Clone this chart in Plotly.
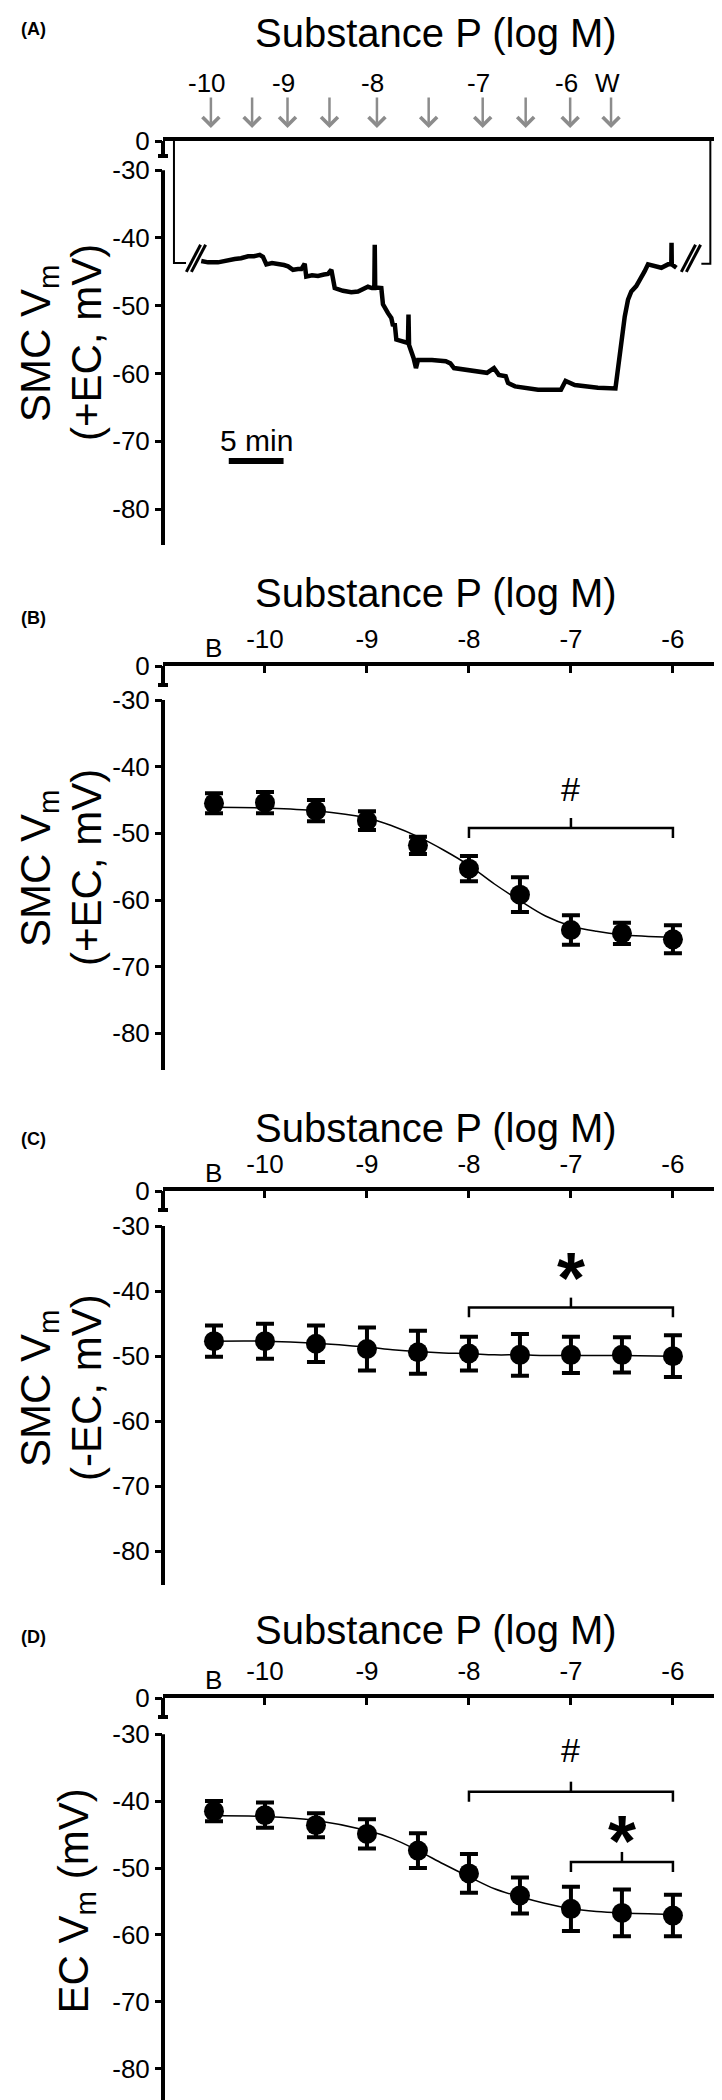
import plotly.graph_objects as go

W, H = 722, 2100
FONT = "Liberation Sans, Arial, sans-serif"
GREY = "#8c8c8c"

# ---------------- (A) SMC Vm recording (+EC) ----------------
# time in min, membrane potential in mV
pre_t = [1.00, 1.00, 2.10]
pre_v = [0, -43.7, -43.7]
rec_t = [3.49, 4.11, 5.02, 5.75, 6.54, 7.12, 7.76, 8.30, 8.82, 9.12, 9.43, 9.95,
         10.49, 11.04, 11.41, 11.86, 12.32, 12.62, 12.93, 13.07, 13.60, 14.14, 14.69,
         15.05, 15.36, 15.67, 16.42, 17.18, 17.79, 18.25, 18.70, 19.07, 19.28, 19.32,
         19.36, 19.92, 20.07, 20.53, 20.83, 20.99, 21.14, 21.29, 21.90, 22.35, 22.40,
         22.45, 22.86, 23.08, 23.27, 24.54, 25.80, 26.22, 26.55, 27.90, 29.56, 30.20,
         30.64, 31.27, 31.48, 32.12, 34.22, 36.31, 36.73, 37.57, 39.68, 41.28, 41.44,
         41.82, 42.13, 42.43, 42.73, 43.18, 43.64, 43.95, 44.25, 44.86, 45.47, 46.08,
         46.38, 46.40, 46.42, 46.84]
rec_v = [-43.4, -43.6, -43.6, -43.3, -43.1, -43.0, -42.7, -42.7, -42.5, -42.8, -43.9, -43.7,
         -43.8, -44.0, -44.2, -44.7, -44.6, -44.6, -43.8, -45.7, -45.5, -45.6, -45.4,
         -45.3, -44.7, -47.4, -47.8, -48.0, -47.9, -47.5, -47.2, -47.4, -47.4, -41.0,
         -47.3, -47.4, -49.8, -51.1, -51.8, -53.0, -52.6, -55.0, -55.2, -55.5, -51.3,
         -55.8, -57.7, -59.2, -58.0, -58.0, -58.2, -58.5, -59.2, -59.5, -59.9, -59.2,
         -60.2, -60.4, -61.4, -61.9, -62.4, -62.4, -61.1, -61.7, -62.1, -62.2, -60.2,
         -55.5, -51.6, -49.1, -47.9, -47.1, -45.9, -44.9, -43.9, -44.2, -44.4, -43.9,
         -43.9, -40.7, -43.9, -44.4]
post_t = [49.12, 49.94, 49.94]
post_v = [-43.8, -43.8, 0]

# substance P additions (min) and washout
add_t = [4.37, 8.13, 11.36, 15.19, 19.52, 24.24, 29.17, 33.09, 37.15, 40.88]
add_lbl = ["-10", "", "-9", "", "-8", "", "-7", "", "-6", "W"]
scale_min = 5

# ---------------- (B)-(D) concentration-response ----------------
log_sp = [-10.5, -10, -9.5, -9, -8.5, -8, -7.5, -7, -6.5, -6]   # -10.5 = baseline "B"
conc_ticks = [-10, -9, -8, -7, -6]
conc_labels = ["-10", "-9", "-8", "-7", "-6"]
vm_ticks = [-30, -40, -50, -60, -70, -80]

smc_ec_mean = [-45.5, -45.4, -46.6, -48.1, -51.8, -55.3, -59.2, -64.5, -65.0, -65.9]
smc_ec_sem = [1.5, 1.6, 1.6, 1.4, 1.3, 1.9, 2.6, 2.2, 1.6, 2.1]
smc_noec_mean = [-47.7, -47.7, -48.1, -48.9, -49.4, -49.6, -49.8, -49.8, -49.8, -50.0]
smc_noec_sem = [2.4, 2.7, 2.8, 3.3, 3.3, 2.6, 3.2, 2.8, 2.7, 3.2]
ec_mean = [-41.5, -42.1, -43.6, -44.9, -47.4, -50.8, -54.1, -56.1, -56.7, -57.1]
ec_sem = [1.5, 1.9, 1.8, 2.2, 2.6, 2.9, 2.7, 3.3, 3.5, 3.1]

fit_x = [-10.5, -10, -9.5, -9, -8.75, -8.5, -8.25, -8, -7.75, -7.5, -7.25, -7, -6.75, -6.5, -6]
smc_ec_fit = [-46.1, -46.2, -46.6, -47.7, -48.9, -50.5, -52.5, -54.8, -57.6, -60.1,
              -62.4, -63.9, -64.7, -65.2, -65.6]
smc_noec_fit = [-47.7, -47.7, -48.0, -48.6, -49.0, -49.3, -49.5, -49.6, -49.8, -49.8,
                -49.9, -49.9, -49.9, -49.9, -50.0]
ec_fit = [-42.2, -42.3, -42.9, -44.4, -45.6, -47.4, -49.4, -51.3, -53.1, -54.3,
          -55.3, -56.1, -56.5, -56.7, -56.9]

# significance brackets: (from, to, bracket level mV, mark, mark level mV)
sig_smc_ec = [(-8, -6, -49.2, "#", -43.3)]
sig_smc_noec = [(-8, -6, -42.5, "*", -35.3)]
sig_ec = [(-8, -6, -38.6, "#", -32.4), (-7, -6, -49.1, "*", -43.4)]

# ---------------- layout geometry (pixels) ----------------
X0, X1 = 155, 720
panels = [
    dict(tag="(A)", top=133, bot=537, lo=-85.3, zero=-25.7, cap=15, title_y=25, tag_y=21,
         ytitle=["SMC V<sub>m</sub>", "(+EC, mV)"]),
    dict(tag="(B)", top=658, bot=1062, lo=-85.5, zero=-24.9, cap=19, title_y=585, tag_y=610,
         ytitle=["SMC V<sub>m</sub>", "(+EC, mV)"],
         mean=smc_ec_mean, sem=smc_ec_sem, fit=smc_ec_fit, sig=sig_smc_ec),
    dict(tag="(C)", top=1183, bot=1577, lo=-85.2, zero=-24.6, cap=19, title_y=1120, tag_y=1131,
         ytitle=["SMC V<sub>m</sub>", "(-EC, mV)"],
         mean=smc_noec_mean, sem=smc_noec_sem, fit=smc_noec_fit, sig=sig_smc_noec),
    dict(tag="(D)", top=1690, bot=2097, lo=-85.4, zero=-24.6, cap=19, title_y=1622, tag_y=1629,
         ytitle=["EC V<sub>m</sub> (mV)"],
         mean=ec_mean, sem=ec_sem, fit=ec_fit, sig=sig_ec),
]


def py(px):
    return 1 - px / H


def px_(x):
    return x / W


def note(**kw):
    d = dict(showarrow=False, xanchor="center", yanchor="middle")
    d.update(kw)
    return d


fig = go.Figure()
layout = dict(width=W, height=H, margin=dict(l=0, r=0, t=0, b=0), showlegend=False,
              plot_bgcolor="white", paper_bgcolor="white", font=dict(family=FONT, color="black"))
shapes, anns = [], []
tickfont = dict(family=FONT, size=26, color="black")

for i, p in enumerate(panels):
    k = "" if i == 0 else str(i + 1)
    xa, ya = "x" + k, "y" + k
    ppm = (p["bot"] - p["top"]) / (p["zero"] - p["lo"])

    layout["yaxis" + k] = dict(
        domain=[py(p["bot"]), py(p["top"])], range=[p["lo"], p["zero"]], anchor=xa,
        showgrid=False, zeroline=False, showline=False, automargin=False, fixedrange=True,
        ticks="outside", ticklen=7, tickwidth=3, tickcolor="black",
        tickvals=[p["zero"] - 0.01] + vm_ticks,
        ticktext=["0"] + [str(v) for v in vm_ticks], tickfont=tickfont)

    xdict = dict(domain=[px_(X0), px_(X1)], anchor=ya, side="top", showgrid=False,
                 zeroline=False, showline=True, linewidth=4, linecolor="black",
                 automargin=False, fixedrange=True)
    if i == 0:
        xdict.update(range=[0, (X1 - X0) / 10.96], ticks="", showticklabels=False)
    else:
        xdict.update(range=[-11, -5.46], ticks="inside", ticklen=7, tickwidth=3,
                     tickcolor="black", tickvals=conc_ticks, ticktext=conc_labels,
                     tickfont=tickfont, ticklabelstandoff=4)
    layout["xaxis" + k] = xdict

    # broken y axis line
    cap_y = p["zero"] - p["cap"] / ppm
    cw = 5 / (X1 - X0)
    line = dict(color="black", width=4)
    shapes += [
        dict(type="line", xref=xa + " domain", yref=ya, x0=0, x1=0, y0=p["zero"], y1=cap_y, line=line),
        dict(type="line", xref=xa + " domain", yref=ya, x0=-cw, x1=cw, y0=cap_y, y1=cap_y, line=line),
        dict(type="line", xref=xa + " domain", yref=ya, x0=0, x1=0, y0=-30, y1=p["lo"], line=line),
    ]

    # panel tag, title, y title
    anns.append(note(x=px_(25), y=py(p["tag_y"]), xref="paper", yref="paper",
                     text="<b>%s</b>" % p["tag"], font=dict(size=18, family=FONT)))
    anns.append(note(x=px_(428), y=py(p["title_y"]), xref="paper", yref="paper",
                     text="Substance P (log M)", font=dict(size=40, family=FONT)))
    yc = py((p["top"] + p["bot"]) / 2)
    xs = [30, 78] if len(p["ytitle"]) == 2 else [68]
    for xx, t in zip(xs, p["ytitle"]):
        anns.append(note(x=px_(xx), y=yc, xref="paper", yref="paper", text=t, textangle=-90,
                         font=dict(size=42, family=FONT)))

    if i == 0:
        # recording trace; 0 mV sits on the top axis of the broken scale
        def on_axis(vals):
            return [p["zero"] if v == 0 else v for v in vals]
        fig.add_trace(go.Scatter(x=pre_t + [None] + post_t,
                                 y=on_axis(pre_v) + [None] + on_axis(post_v),
                                 mode="lines", xaxis=xa, yaxis=ya, connectgaps=False,
                                 line=dict(color="black", width=2), hoverinfo="skip"))
        fig.add_trace(go.Scatter(x=rec_t, y=rec_v, mode="lines", xaxis=xa, yaxis=ya,
                                 line=dict(color="black", width=4.5), hoverinfo="skip"))
        # break marks
        for (a, b) in [(2.13, 2.59), (47.29, 47.75)]:
            for s in (a, b):
                shapes.append(dict(type="line", xref=xa, yref=ya, x0=s, x1=s + 1.3,
                                   y0=-45.0, y1=-41.0, line=dict(color="black", width=3)))
        # additions
        for t, lbl in zip(add_t, add_lbl):
            anns.append(dict(x=t, xref=xa, y=py(120), yref="paper", ax=0, ay=-32, text="",
                             xanchor="center", yanchor="middle",
                             showarrow=True, arrowhead=4, arrowsize=1.3, arrowwidth=2.5,
                             arrowcolor=GREY))
            if lbl:
                anns.append(note(x=t, xref=xa, y=py(75), yref="paper", text=lbl, xshift=-4,
                                 font=tickfont))
        # scale bar
        shapes.append(dict(type="line", xref=xa, yref=ya, x0=6.0, x1=6.0 + scale_min,
                           y0=-72.9, y1=-72.9, line=dict(color="black", width=6)))
        anns.append(note(x=6.0 + scale_min / 2, y=-69.9, xref=xa, yref=ya,
                         text="%d min" % scale_min, font=dict(size=30, family=FONT)))
        continue

    anns.append(note(x=log_sp[0], xref=xa, y=py(p["top"] - 18), yref="paper", text="B",
                     font=tickfont))
    fig.add_trace(go.Scatter(x=fit_x, y=p["fit"], mode="lines", xaxis=xa, yaxis=ya,
                             line=dict(color="black", width=1.5, shape="spline"), hoverinfo="skip"))
    fig.add_trace(go.Scatter(x=log_sp, y=p["mean"], mode="markers", xaxis=xa, yaxis=ya,
                             marker=dict(size=20, color="black"),
                             error_y=dict(type="data", array=p["sem"], visible=True, color="black",
                                          thickness=4, width=9)))
    for (a, b, lev, mark, mlev) in p["sig"]:
        m = (a + b) / 2
        fig.add_trace(go.Scatter(x=[a, a, b, b, None, m, m],
                                 y=[lev - 1.5, lev, lev, lev - 1.5, None, lev, lev + 1.5],
                                 mode="lines", xaxis=xa, yaxis=ya, line=dict(color="black", width=2.5),
                                 hoverinfo="skip"))
        if mark == "*":
            anns.append(note(x=m, y=mlev, xref=xa, yref=ya, text="<b>*</b>", yshift=-17,
                             font=dict(size=72, family=FONT)))
        else:
            anns.append(note(x=m, y=mlev, xref=xa, yref=ya, text=mark,
                             font=dict(size=34, family=FONT)))

layout["shapes"] = shapes
layout["annotations"] = anns
fig.update_layout(**layout)
fig.write_html("out.html")
